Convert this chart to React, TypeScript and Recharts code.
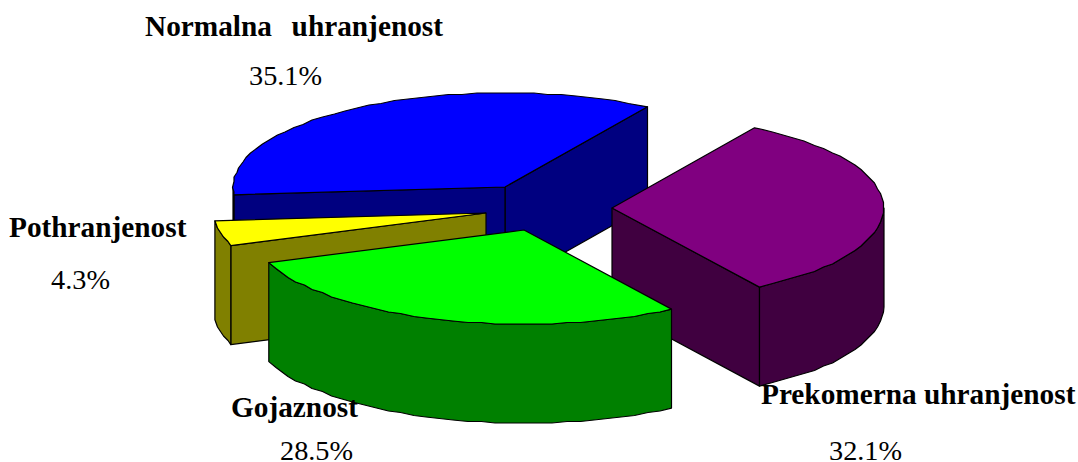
import { PieChart, Pie } from "recharts"

const categories = ["Normalna  uhranjenost", "Pothranjenost", "Gojaznost", "Prekomerna uhranjenost"]
const shares = [35.1, 4.3, 28.5, 32.1]

const pieData = categories.map((name, i) => ({ name, value: shares[i] }))

// top face colour, side wall colour, explode offset from the pie centre, layer
const sliceStyles = [
  { top: "#0000ff", side: "#000080", dx: -25, dy: -23, layer: 0 },
  { top: "#ffff00", side: "#808000", dx: -44, dy: 3, layer: 1 },
  { top: "#00ff00", side: "#008000", dx: -6, dy: 20, layer: 1 },
  { top: "#800080", side: "#400040", dx: 82, dy: -2, layer: 0 },
]

// where each caption goes: name x/y, percent x/y
const captionSpots = [
  [145, 36, 249, 85],
  [9, 237, 51, 289],
  [231, 417, 280, 460],
  [761, 404, 829, 460],
]

const TILT = 0.346
const DEPTH = 99
const RAD = Math.PI / 180

const snap = (v: number) => Math.round(v / 1.5) * 1.5

const Wedge = ({ layer, ...props }: any) => {
  const i = categories.indexOf(props.name)
  const style = sliceStyles[i]
  if (!style || style.layer !== layer) return null

  const { cx, cy, outerRadius: r, startAngle: a, endAngle: b } = props
  const ox = cx + style.dx
  const oy = cy + style.dy

  const at = (deg: number) => [ox + r * Math.cos(deg * RAD), oy - r * TILT * Math.sin(deg * RAD)]

  // the rim is a coarse polyline, the kind of outline old office charts export
  const rim = (from: number, to: number) => {
    const pts: number[][] = [at(from)]
    for (let d = Math.ceil(from / 3) * 3 + 3; d < to; d += 3) {
      const [x, y] = at(d)
      pts.push([snap(x), snap(y)])
    }
    pts.push(at(to))
    return pts
  }

  const poly = (pts: number[][]) => pts.map((p) => `${p[0].toFixed(1)},${p[1].toFixed(1)}`).join(" ")
  const drop = (pts: number[][]) => pts.map((p) => [p[0], p[1] + DEPTH]).reverse()

  const walls: number[][][] = []
  const apex = [ox, oy]

  // a cut face shows only when it turns towards the viewer
  if (Math.cos(a * RAD) > 0) walls.push([apex, at(a), ...drop([apex, at(a)])])
  if (Math.cos(b * RAD) < 0) walls.push([apex, at(b), ...drop([apex, at(b)])])

  // the round wall is visible on the lower half of the ellipse only
  for (const k of [0, 1]) {
    const from = Math.max(a, 180 + k * 360)
    const to = Math.min(b, 360 + k * 360)
    if (from < to) {
      const edge = rim(from, to)
      walls.push([...edge, ...drop(edge)])
    }
  }

  return (
    <g stroke="#000" strokeWidth={1.2} strokeLinejoin="round">
      {walls.map((w, n) => (
        <polygon key={n} points={poly(w)} fill={style.side} />
      ))}
      <polygon points={poly([apex, ...rim(a, b)])} fill={style.top} />
    </g>
  )
}

const Caption = ({ index, name, value }: any) => {
  const [nx, ny, px, py] = captionSpots[index]
  return (
    <g fontFamily="'Liberation Serif'" fill="#000">
      <text
        x={nx}
        y={ny}
        fontSize={29.3}
        fontWeight="bold"
        wordSpacing={name.includes("  ") ? 2.5 : 0}
        style={{ whiteSpace: "pre" }}
      >
        {name}
      </text>
      <text x={px} y={py} fontSize={28.3}>
        {value.toFixed(1)}%
      </text>
    </g>
  )
}

export default function App() {
  return (
    <div style={{ position: "absolute", left: 0, top: 0 }}>
      <PieChart width={1078} height={462} margin={{ top: 0, right: 0, bottom: 0, left: 0 }}>
        <Pie
          data={pieData}
          dataKey="value"
          nameKey="name"
          cx={530}
          cy={210}
          outerRadius={272}
          startAngle={58.4}
          endAngle={418.4}
          stroke="none"
          isAnimationActive={false}
          shape={(p: any) => <Wedge {...p} layer={0} />}
        />
        <Pie
          data={pieData}
          dataKey="value"
          nameKey="name"
          cx={530}
          cy={210}
          outerRadius={272}
          startAngle={58.4}
          endAngle={418.4}
          stroke="none"
          isAnimationActive={false}
          shape={(p: any) => <Wedge {...p} layer={1} />}
          label={(p: any) => <Caption {...p} />}
          labelLine={false}
        />
      </PieChart>
    </div>
  )
}
